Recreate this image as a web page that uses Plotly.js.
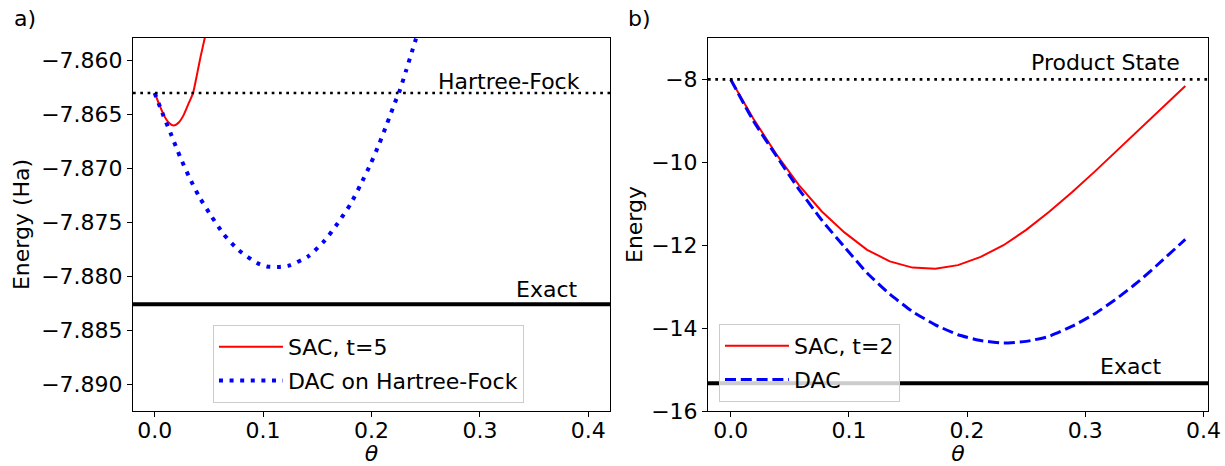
<!DOCTYPE html>
<html>
<head>
<meta charset="utf-8">
<script src="https://cdn.plot.ly/plotly-3.0.1.min.js"></script>
<style>html,body{margin:0;padding:0;background:#fff;}#chart{width:1225px;height:466px;}</style>
</head>
<body>
<div id="chart"></div>
<script>
// ---- Panel a) data ----
const thetaSacA = [0, 0.0037, 0.0083, 0.0129, 0.0175, 0.0222, 0.0268, 0.0314, 0.0354, 0.0391, 0.0422, 0.0462, 0.0475];
const sacA = [-7.8630, -7.86395, -7.86503, -7.86574, -7.86602, -7.86574, -7.86503, -7.86395, -7.8630, -7.86125, -7.8597, -7.8579, -7.8572];
const thetaDacA = [0, 0.008, 0.0157, 0.0234, 0.0317, 0.0412, 0.052, 0.0637, 0.0776, 0.0945, 0.1037, 0.1136, 0.1237, 0.1416, 0.157, 0.169, 0.1807, 0.1899, 0.1991, 0.2071, 0.2145, 0.2216, 0.2256, 0.2318, 0.2379, 0.241, 0.244];
const dacA = [-7.8630, -7.86509, -7.86698, -7.86892, -7.87077, -7.87265, -7.87438, -7.87611, -7.87759, -7.87877, -7.8791, -7.87914, -7.87901, -7.87815, -7.87667, -7.87506, -7.8733, -7.87151, -7.8696, -7.86772, -7.8658, -7.86389, -7.8629, -7.86096, -7.85898, -7.85799, -7.857];
const hartreeFockA = -7.8630;
const exactA = -7.8826;

// ---- Panel b) data ----
const thetaB = [0, 0.0192, 0.0385, 0.0577, 0.0769, 0.0962, 0.1154, 0.1346, 0.1538, 0.1731, 0.1923, 0.2115, 0.2308, 0.25, 0.2692, 0.2885, 0.3077, 0.3269, 0.3462, 0.3654, 0.3846];
const sacB = [-8, -8.95, -9.80, -10.55, -11.18, -11.69, -12.11, -12.39, -12.54, -12.57, -12.48, -12.28, -12.00, -11.63, -11.20, -10.73, -10.23, -9.71, -9.19, -8.67, -8.16];
const dacB = [-8, -9.00, -9.84, -10.65, -11.39, -12.04, -12.67, -13.18, -13.60, -13.92, -14.16, -14.30, -14.36, -14.32, -14.20, -13.96, -13.66, -13.28, -12.85, -12.36, -11.86];
const productStateB = -8;
const exactB = -15.33;

// ---- labels ----
const legendA = ['SAC, t=5', 'DAC on Hartree-Fock'];
const legendB = ['SAC, t=2', 'DAC'];

const FONT = 'DejaVu Sans, Liberation Sans, sans-serif';
const FS = 22;

const traces = [
  {x: thetaSacA, y: sacA, xaxis: 'x', yaxis: 'y', mode: 'lines', name: legendA[0], legendgroup: 'a1',
   line: {color: 'red', width: 2, shape: 'spline', smoothing: 0.6}, legend: 'legend'},
  {x: thetaDacA, y: dacA, xaxis: 'x', yaxis: 'y', mode: 'lines', name: legendA[1], legendgroup: 'a2',
   line: {color: 'blue', width: 4, dash: '4px,6.6px', shape: 'spline', smoothing: 0.6}, legend: 'legend'},
  {x: thetaB, y: sacB, xaxis: 'x2', yaxis: 'y2', mode: 'lines', name: legendB[0], legendgroup: 'b1',
   line: {color: 'red', width: 2}, legend: 'legend2'},
  {x: thetaB, y: dacB, xaxis: 'x2', yaxis: 'y2', mode: 'lines', name: legendB[1], legendgroup: 'b2',
   line: {color: 'blue', width: 3, dash: '11px,4.8px', shape: 'spline', smoothing: 0.5}, legend: 'legend2'}
];

function hline(xr, yr, yv, width, dash) {
  return {type: 'line', xref: xr + ' domain', yref: yr, x0: 0, x1: 1, y0: yv, y1: yv,
          line: {color: 'black', width: width, dash: dash}, layer: 'above'};
}

const axBase = {
  showgrid: false, zeroline: false, showline: true, mirror: true,
  linecolor: 'black', linewidth: 1, ticks: 'outside', ticklen: 5, tickwidth: 1,
  tickcolor: 'black', tickfont: {family: FONT, size: FS, color: 'black'}
};
const titleFont = {family: FONT, size: FS, color: 'black'};
const legFont = {family: FONT, size: FS, color: 'black'};

const layout = {
  width: 1225, height: 466,
  margin: {l: 133, r: 17, t: 38, b: 55},
  paper_bgcolor: 'white', plot_bgcolor: 'white',
  font: {family: FONT, size: FS, color: 'black'},
  showlegend: true,
  xaxis: Object.assign({}, axBase, {domain: [0, 0.44372], range: [-0.02, 0.42], dtick: 0.1, tick0: 0, tickformat: '.1f',
    ticklabelstandoff: -5, title: {text: '<i>θ</i>', font: titleFont, standoff: 8}, anchor: 'y'}),
  yaxis: Object.assign({}, axBase, {domain: [0, 1], range: [-7.8925, -7.8579], dtick: 0.005, tick0: -7.86, tickformat: '.3f',
    title: {text: 'Energy (Ha)', font: titleFont, standoff: 5}, anchor: 'x'}),
  xaxis2: Object.assign({}, axBase, {domain: [0.53488, 1], range: [-0.0192, 0.4038], dtick: 0.1, tick0: 0, tickformat: '.1f',
    ticklabelstandoff: -5, title: {text: '<i>θ</i>', font: titleFont, standoff: 8}, anchor: 'y2'}),
  yaxis2: Object.assign({}, axBase, {domain: [0, 1], range: [-16, -7], dtick: 2, tick0: -16, tickformat: 'd',
    title: {text: 'Energy', font: titleFont, standoff: 2}, anchor: 'x2'}),
  legend: {x: 0.0744, y: 0.2306, xanchor: 'left', yanchor: 'top', bgcolor: 'rgba(255,255,255,0.8)',
    bordercolor: '#cccccc', borderwidth: 1, font: legFont, itemwidth: 64, tracegroupgap: 2},
  legend2: {x: 0.5451, y: 0.2332, xanchor: 'left', yanchor: 'top', bgcolor: 'rgba(255,255,255,0.8)',
    bordercolor: '#cccccc', borderwidth: 1, font: legFont, itemwidth: 64, tracegroupgap: 2},
  shapes: [
    hline('x', 'y', hartreeFockA, 2.7, '2.7px,4.6px'),
    hline('x', 'y', exactA, 4, 'solid'),
    hline('x2', 'y2', productStateB, 2.7, '2.7px,4.6px'),
    hline('x2', 'y2', exactB, 4, 'solid')
  ],
  annotations: [
    {xref: 'x domain', yref: 'y domain', x: 0.9403, y: 0.8835, xanchor: 'right', yanchor: 'middle', text: 'Hartree-Fock', showarrow: false, font: titleFont},
    {xref: 'x domain', yref: 'y domain', x: 0.935, y: 0.3266, xanchor: 'right', yanchor: 'middle', text: 'Exact', showarrow: false, font: titleFont},
    {xref: 'x2 domain', yref: 'y2 domain', x: 0.948, y: 0.9344, xanchor: 'right', yanchor: 'middle', text: 'Product State', showarrow: false, font: titleFont},
    {xref: 'x2 domain', yref: 'y2 domain', x: 0.91, y: 0.1205, xanchor: 'right', yanchor: 'middle', text: 'Exact', showarrow: false, font: titleFont},
    {xref: 'paper', yref: 'paper', x: -0.1126, y: 1.0522, xanchor: 'left', yanchor: 'middle', text: 'a)', showarrow: false, font: titleFont},
    {xref: 'paper', yref: 'paper', x: 0.4586, y: 1.0522, xanchor: 'left', yanchor: 'middle', text: 'b)', showarrow: false, font: titleFont}
  ]
};

Plotly.newPlot('chart', traces, layout, {displayModeBar: false, staticPlot: true});
</script>
</body>
</html>
